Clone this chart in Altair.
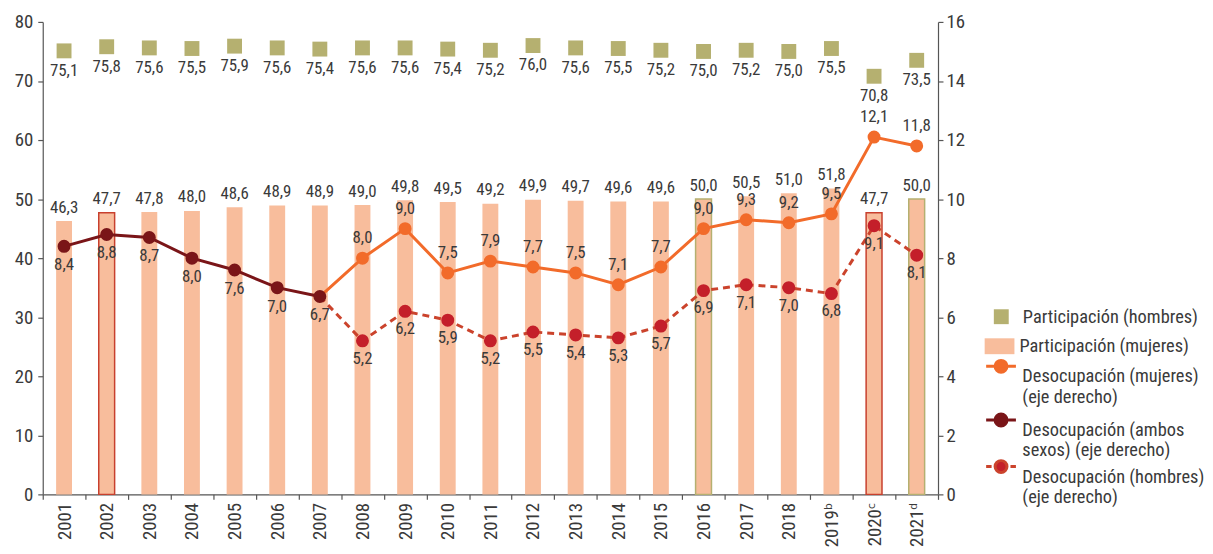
import altair as alt
import pandas as pd

# ---------------- data ----------------
years = ["2001", "2002", "2003", "2004", "2005", "2006", "2007", "2008", "2009", "2010",
         "2011", "2012", "2013", "2014", "2015", "2016", "2017", "2018", "2019ᵇ", "2020ᶜ", "2021ᵈ"]
part_hombres = [75.1, 75.8, 75.6, 75.5, 75.9, 75.6, 75.4, 75.6, 75.6, 75.4, 75.2, 76.0, 75.6, 75.5,
                75.2, 75.0, 75.2, 75.0, 75.5, 70.8, 73.5]
part_mujeres = [46.3, 47.7, 47.8, 48.0, 48.6, 48.9, 48.9, 49.0, 49.8, 49.5, 49.2, 49.9, 49.7, 49.6,
                49.6, 50.0, 50.5, 51.0, 51.8, 47.7, 50.0]
years_ambos = years[:7]
desoc_ambos = [8.4, 8.8, 8.7, 8.0, 7.6, 7.0, 6.7]
years_sexo = years[7:]
desoc_mujeres = [8.0, 9.0, 7.5, 7.9, 7.7, 7.5, 7.1, 7.7, 9.0, 9.3, 9.2, 9.5, 12.1, 11.8]
desoc_hombres = [5.2, 6.2, 5.9, 5.2, 5.5, 5.4, 5.3, 5.7, 6.9, 7.1, 7.0, 6.8, 9.1, 8.1]
outlined_red = ["2002", "2020ᶜ"]
outlined_olive = ["2016", "2021ᵈ"]

N_PH = "Participación (hombres)"
N_PM = "Participación (mujeres)"
N_DM = "Desocupación (mujeres)|(eje derecho)"
N_DA = "Desocupación (ambos|sexos) (eje derecho)"
N_DH = "Desocupación (hombres)|(eje derecho)"

# ---------------- styles ----------------
FONT = "Roboto Condensed, DejaVu Sans Condensed, sans-serif"
PEACH = "#F8BD9C"
OLIVE = "#B5B070"
ORANGE = "#F26B2A"
DARK = "#7A1518"
RED_PT = "#C41F2A"
DASH = "#CB432C"
RED_OUT = "#C8402E"
TXT = "#3a3a3a"
AX = "#555555"
VAL_FS = 17

df_part = pd.DataFrame({"year": years, "h": part_hombres, "m": part_mujeres})
df_amb = pd.DataFrame({"year": years_ambos, "v": desoc_ambos})
df_muj = pd.DataFrame({"year": years_sexo, "v": desoc_mujeres})
df_hom = pd.DataFrame({"year": years_sexo, "v": desoc_hombres})
df_muj_line = pd.concat([df_amb.tail(1), df_muj], ignore_index=True)
df_hom_line = pd.concat([df_amb.tail(1), df_hom], ignore_index=True)

LBL = "replace(format(datum.{f}, '.1f'), '.', ',')"

x_enc = alt.X("year:N", sort=years,
              scale=alt.Scale(domain=years, paddingInner=0, paddingOuter=0),
              axis=alt.Axis(title=None, labelAngle=-90, tickBand="extent", tickSize=5,
                            labelPadding=3, labelFontSize=19))

yl_scale = alt.Scale(domain=[0, 80])
yl_axis = alt.Axis(title=None, orient="left", values=list(range(0, 81, 10)), tickSize=5,
                   labelPadding=5, grid=False)
yr_scale = alt.Scale(domain=[0, 16])
yr_axis = alt.Axis(title=None, orient="right", values=list(range(0, 17, 2)), tickSize=5,
                   labelPadding=3, grid=False)

LEG = dict(orient="none", labelFont=FONT, labelFontSize=18.5, labelColor=TXT, padding=0,
           labelLimit=400, labelExpr="split(datum.label, '|')",
           title=None, symbolOpacity=1)

def circ(y):
    return (f"M0.6,{y}A0.6,0.6,0,1,1,-0.6,{y}A0.6,0.6,0,1,1,0.6,{y}Z")

OFF = -1.025
PATH_LINE = f"M-1.5,{OFF}H1.5" + circ(OFF)
PATH_DASH = f"M-1.5,{OFF}H-0.95M0.95,{OFF}H1.5" + circ(OFF)
PATH_RECT = "M-1.5,-0.8H1.5V0.8H-1.5Z"

def ccol(name, col, leg):
    return alt.Color("serie:N",
                     scale=alt.Scale(domain=[name], range=[col]),
                     legend=alt.Legend(**LEG, **leg))

def tag(ch, name):
    return ch.transform_calculate(serie=f"'{name}'")

LX = 954
base_p = alt.Chart(df_part)

bars = tag(base_p, N_PM).mark_bar(size=16, strokeWidth=1.5).encode(
    x=x_enc,
    y=alt.Y("m:Q", scale=yl_scale, axis=yl_axis),
    color=ccol(N_PM, PEACH, dict(legendX=LX, legendY=316.75, symbolType=PATH_RECT,
                                 symbolSize=400, labelOffset=10, symbolStrokeWidth=0)),
    stroke={"condition": [
        {"test": f"indexof({outlined_red}, datum.year) >= 0", "value": RED_OUT},
        {"test": f"indexof({outlined_olive}, datum.year) >= 0", "value": OLIVE}],
        "value": "transparent"},
)
bar_txt = base_p.transform_calculate(lbl=LBL.format(f="m")).mark_text(
    dy=-13.5, fontSize=VAL_FS, font=FONT, color=TXT).encode(
    x=x_enc, y=alt.Y("m:Q", scale=yl_scale, axis=yl_axis), text="lbl:N")

squares = tag(base_p, N_PH).mark_square(size=225, opacity=1).encode(
    x=x_enc,
    y=alt.Y("h:Q", scale=yl_scale, axis=yl_axis),
    color=ccol(N_PH, OLIVE, dict(legendX=LX + 2.5, legendY=287.75, symbolType="square",
                                 symbolSize=225, labelOffset=12.5)),
)
sq_txt = base_p.transform_calculate(lbl=LBL.format(f="h")).mark_text(
    dy=20, fontSize=VAL_FS, font=FONT, color=TXT).encode(
    x=x_enc, y=alt.Y("h:Q", scale=yl_scale, axis=yl_axis), text="lbl:N")

left = alt.layer(bars, bar_txt, squares, sq_txt).resolve_scale(color="independent")

yr = alt.Y("v:Q", scale=yr_scale, axis=yr_axis)

line_m = alt.Chart(df_muj_line).mark_line(color=ORANGE, strokeWidth=3).encode(x=x_enc, y=yr)
line_h = alt.Chart(df_hom_line).mark_line(color=DASH, strokeWidth=3, strokeDash=[7, 5]).encode(x=x_enc, y=yr)
line_a = alt.Chart(df_amb).mark_line(color=DARK, strokeWidth=3).encode(x=x_enc, y=yr)

pts_a = tag(alt.Chart(df_amb), N_DA).mark_circle(size=170, opacity=1).encode(
    x=x_enc, y=yr,
    color=ccol(N_DA, DARK, dict(legendX=LX, legendY=399.75, symbolType=PATH_LINE, symbolSize=400,
                                labelOffset=10, symbolStrokeColor=DARK, symbolStrokeWidth=3)))
pts_m = tag(alt.Chart(df_muj), N_DM).mark_circle(size=170, opacity=1).encode(
    x=x_enc, y=yr,
    color=ccol(N_DM, ORANGE, dict(legendX=LX, legendY=345.75, symbolType=PATH_LINE, symbolSize=400,
                                  labelOffset=10, symbolStrokeColor=ORANGE, symbolStrokeWidth=3)))
pts_h = tag(alt.Chart(df_hom), N_DH).mark_circle(size=170, opacity=1).encode(
    x=x_enc, y=yr,
    color=ccol(N_DH, RED_PT, dict(legendX=LX, legendY=446.75, symbolType=PATH_DASH, symbolSize=400,
                                  labelOffset=10, symbolStrokeColor=DASH, symbolStrokeWidth=3)))

def vtxt(df, dy):
    return alt.Chart(df).transform_calculate(lbl=LBL.format(f="v")).mark_text(
        dy=dy, fontSize=VAL_FS, font=FONT, color=TXT).encode(x=x_enc, y=yr, text="lbl:N")

right = alt.layer(line_m, line_h, line_a, pts_a, pts_m, pts_h,
                  vtxt(df_amb, 19), vtxt(df_muj, -20), vtxt(df_hom, 18)
                  ).resolve_scale(color="independent")

chart = alt.layer(left, right).resolve_scale(y="independent", color="independent").properties(
    width=902, height=476,
    padding={"left": 6, "top": 3, "right": 0, "bottom": 0},
).configure_view(stroke=None).configure_axis(
    labelFont=FONT, labelFontSize=19, labelColor=TXT, domainColor=AX, tickColor=AX,
    domainWidth=1.2, tickWidth=1.2,
)

chart.save("out.html", embed_options={"renderer": "svg", "actions": False})
